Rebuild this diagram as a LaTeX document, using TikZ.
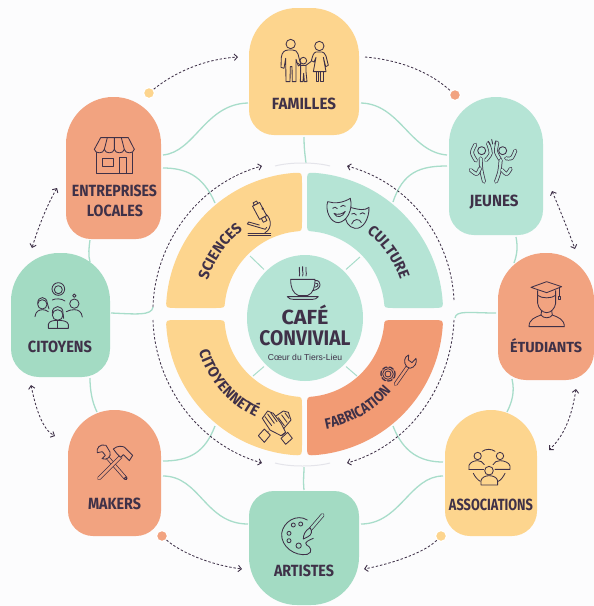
\documentclass[tikz,border=0pt]{standalone}
\usepackage{graphicx}
\usepackage{fontspec}
\usetikzlibrary{arrows.meta,shapes.geometric,decorations.text}
\newfontfamily\labf[FakeStretch=0.86]{Fira Sans}
\newfontfamily\labw[FakeStretch=0.97]{Fira Sans}
\newfontfamily\subf{Liberation Sans}
\definecolor{bgc}{HTML}{FCFCFD}
\definecolor{ink}{HTML}{3F3148}
\definecolor{tealA}{HTML}{A3DBC3}
\definecolor{tealB}{HTML}{B5E4D5}
\definecolor{orangeA}{HTML}{F2A380}
\definecolor{orangeB}{HTML}{F29B74}
\definecolor{yellowA}{HTML}{FDD58E}
\definecolor{linkc}{HTML}{A8DDCA}
\definecolor{faint}{HTML}{E4E4EA}
\newcommand\catfont{\labw\bfseries\fontsize{15}{15}\selectfont\color{ink}}
\newcommand\catfontn{\labf\bfseries\fontsize{15}{15}\selectfont\color{ink}}
\newcommand\fl[3]{\resizebox{#1pt}{#2pt}{#3}}
\newcommand\drawcard[8]{%
 \fill[#8] (#2,{#3+#6}) .. controls (#2,{#3+.45*#6}) and ({#2+.45*#6},#3) .. ({#2+#6},#3)
  -- ({#4-#6},#3) .. controls ({#4-.45*#6},#3) and (#4,{#3+.45*#6}) .. (#4,{#3+#6})
  -- (#4,{#5-#7}) .. controls (#4,{#5-.45*#7}) and ({#4-.45*#7},#5) .. ({#4-#7},#5)
  -- ({#2+#7},#5) .. controls ({#2+.45*#7},#5) and (#2,{#5-.45*#7}) .. (#2,{#5-#7}) -- cycle;
 \node[cardbox,minimum width={(#4-#2)*1pt},minimum height={(#5-#3)*1pt}] (#1) at ({(#2+#4)/2},{(#3+#5)/2}) {};}
\newcommand\qsector[5]{% colour, s, t, cx, cy
 \fill[#1] plot[domain=4:86,samples=40,variable=\a] ({#4+#2*138.5*cos(\a)},{#5+#3*138.5*sin(\a)})
  .. controls ({#4+#2*2.5},{#5+#3*138.5}) .. ({#4+#2*2.5},{#5+#3*128})
  -- ({#4+#2*2.5},{#5+#3*89}) .. controls ({#4+#2*2.5},{#5+#3*80}) .. ({#4+#2*8.4},{#5+#3*79.5})
  -- plot[domain=84:6,samples=30,variable=\a] ({#4+#2*80*cos(\a)},{#5+#3*80*sin(\a)})
  .. controls ({#4+#2*80},{#5+#3*3}) .. ({#4+#2*90},{#5+#3*3})
  -- ({#4+#2*128},{#5+#3*3}) .. controls ({#4+#2*138.5},{#5+#3*3}) .. ({#4+#2*138.2},{#5+#3*9.7}) -- cycle;}
\newcommand\arctext[7]{% text, cx, cy, r, from, to, font
 \path[decorate,decoration={text along path,text={|#7|#1},text align=center}]
  plot[domain=#5:#6,samples=50,variable=\a] ({#2+#4*cos(\a)},{#3+#4*sin(\a)});}
\tikzset{
 cardbox/.style={inner sep=0pt,outer sep=0pt},
 lab/.style={text=ink,font=\labf\bfseries\fontsize{16}{18}\selectfont,inner sep=0pt,align=center},
 link/.style={draw=linkc,line width=1.3pt},
 dashl/.style={draw=ink,line width=.85pt,dash pattern=on 2.4pt off 1.9pt},
 >={Straight Barb[length=3.2pt,width=6.4pt,line width=.9pt]},
 dot/.style={circle,draw=white,line width=1.2pt,minimum size=11pt,inner sep=0pt},
 icon/.style={draw=ink,line width=.85pt,line join=round,line cap=round},
 iconat/.style 2 args={shift={(#1,#2)},x=.33333pt,y=-.33333pt},
 limb/.style={draw=ink,line width=.75pt,double=#1,double distance=2.4pt,line cap=round,line join=round},
}
\begin{document}
\begin{tikzpicture}[x=1pt,y=-1pt]
\useasboundingbox (0,0) rectangle (594,606);
\fill[bgc] (0,0) rectangle (594,606);

% sectors
\qsector{yellowA}{-1}{-1}{304.5}{311}
\qsector{tealB}{1}{-1}{304.5}{311}
\qsector{yellowA}{-1}{1}{304.5}{317}
\qsector{orangeB}{1}{1}{304.5}{317}
\arctext{SCIENCES}{305}{311}{102}{175}{255}{\catfont}
\arctext{CULTURE}{305}{311}{100}{285}{365}{\catfont}
\arctext{FABRICATION}{305}{317}{114}{100}{20}{\catfontn}
\arctext{CITOYENNETÉ}{305}{317}{112}{179}{99}{\catfont}

% centre
\node[ellipse,fill=tealB,minimum width=116pt,minimum height=126pt,inner sep=0pt,outer sep=0pt] (cafe) at (305,318) {};
\node[lab] (cafet) at (305,315) {\fl{47}{19.5}{CAFÉ}};
\node[lab] (convt) at (305,338) {\fl{91}{15}{CONVIVIAL}};
\node[lab,font=\subf\fontsize{8.6}{10}\selectfont] (coeur) at (305,357) {Cœur du Tiers-Lieu};

% cards
\drawcard{fam}{249}{8}{359}{135}{48}{25}{yellowA}
\drawcard{ent}{66}{97}{161}{239}{47}{25}{orangeA}
\drawcard{jeu}{449}{97}{543}{235}{47}{25}{tealB}
\drawcard{cit}{11}{253}{110}{377}{48}{28}{tealA}
\drawcard{etu}{498}{253}{594}{380}{47}{28}{orangeA}
\drawcard{mak}{68}{410}{161}{536}{46}{25}{orangeA}
\drawcard{ass}{445}{410}{537}{536}{46}{25}{yellowA}
\drawcard{art}{249}{491}{359}{605}{25}{48}{tealA}

\node[lab] (famt) at (304,104) {\fl{64}{11.5}{FAMILLES}};
\node[lab] (entt) at (114.5,191) {\fl{85}{11.5}{ENTREPRISES}};
\node[lab] (loct) at (115,211) {\fl{56}{11.5}{LOCALES}};
\node[lab] (jeut) at (494,202) {\fl{49}{11.5}{JEUNES}};
\node[lab] (citt) at (60,347) {\fl{64}{11.5}{CITOYENS}};
\node[lab] (etut) at (546,346) {\fl{72}{14}{ÉTUDIANTS}};
\node[lab] (makt) at (114.5,504) {\fl{53}{11.5}{MAKERS}};
\node[lab] (asst) at (491,505) {\fl{84}{11.5}{ASSOCIATIONS}};
\node[lab] (artt) at (304,571) {\fl{60}{11.5}{ARTISTES}};

% end points on ring and sectors
\coordinate (pS) at (215,203);
\coordinate (pC) at (393,202);
\coordinate (pF) at (393,426);
\coordinate (pM) at (215,426);
\coordinate (rT) at (306,163);
\coordinate (rB) at (304,467);
\coordinate (rR) at (455,318);
\coordinate (rL) at (153,307);
\coordinate (tS) at (250,256);
\coordinate (tC) at (360,257);
\coordinate (tM) at (253,376);
\coordinate (tF) at (357,376);

% links
\draw[link] ([xshift=2pt,yshift=13pt]ent.east) .. controls (195,152) and (205,104) .. ([xshift=-1pt,yshift=-31.5pt]fam.west);
\draw[link] ([xshift=2pt]ent.east) .. controls (185,168) and (203,175) .. (pS);
\draw[link] ([yshift=-2pt]fam.south) .. controls (304,148) and (305,155) .. (rT);
\draw[link] ([xshift=2pt,yshift=-31.5pt]fam.east) .. controls (400,104) and (410,152) .. ([xshift=-2pt,yshift=11pt]jeu.west);
\draw[link] ([xshift=-2pt]jeu.west) .. controls (420,166) and (403,172) .. (pC);
\draw[link] ([xshift=20pt,yshift=-2pt]jeu.south) .. controls (518,247) and (517,255) .. ([xshift=-32pt,yshift=-10pt]etu.north);
\draw[link] ([xshift=-2pt,yshift=3.5pt]etu.west) .. controls (470,313) and (456,310) .. (rR);
\draw[link] ([xshift=-34pt,yshift=1pt]etu.south) .. controls (515,392) and (512,402) .. ([xshift=16pt,yshift=-2pt]ass.north);
\draw[link] ([xshift=-2pt,yshift=11pt]ass.west) .. controls (420,462) and (403,452) .. (pF);
\draw[link] ([xshift=-2pt,yshift=-3pt]ass.west) .. controls (410,476) and (400,524) .. ([xshift=2pt,yshift=24pt]art.east);
\draw[link] ([yshift=1pt]art.north) .. controls (303,480) and (304,475) .. (rB);
\draw[link] ([xshift=2pt,yshift=-3pt]mak.east) .. controls (200,476) and (205,524) .. ([xshift=-1pt,yshift=24pt]art.west);
\draw[link] ([xshift=2pt,yshift=12pt]mak.east) .. controls (190,461) and (205,452) .. (pM);
\draw[link] ([xshift=-17.5pt,yshift=-2pt]mak.north) .. controls (92,402) and (90,390) .. ([xshift=29.5pt,yshift=-1pt]cit.south);
\draw[link] ([xshift=1pt,yshift=2pt]cit.east) .. controls (135,314) and (152,316) .. (rL);
\draw[link] ([xshift=29.5pt,yshift=-9pt]cit.north) .. controls (88,255) and (89,247) .. ([xshift=-23.5pt,yshift=-1pt]ent.south);
\draw[link,line width=1pt] ([yshift=4pt]cafe.north west) -- (tS);
\draw[link,line width=1pt] ([yshift=4pt]cafe.north east) -- (tC);
\draw[link,line width=1pt] ([yshift=-4pt]cafe.south west) -- (tM);
\draw[link,line width=1pt] ([yshift=-4pt]cafe.south east) -- (tF);

% ring
\draw[faint,line width=1pt] (275,166) .. controls (290,162) and (315,162) .. (330,166);
\draw[faint,line width=1pt] (275,463) .. controls (290,467) and (315,467) .. (330,463);
\coordinate (a1) at (153,307); \coordinate (a2) at (262,166);
\coordinate (b1) at (454,300); \coordinate (b2) at (347,166);
\coordinate (c1) at (153,320); \coordinate (c2) at (262,463);
\coordinate (d1) at (454,320); \coordinate (d2) at (347,463);
\draw[dashl,->] (a1) .. controls (155,242) and (199,183) .. (a2);
\draw[dashl,->] (b1) .. controls (451,238) and (410,183) .. (b2);
\draw[dashl,->] (c1) .. controls (155,386) and (199,445) .. (c2);
\draw[dashl,->] (d1) .. controls (451,386) and (410,445) .. (d2);

% outer dashed links and dots
\node[dot,fill=yellowA] (dotE) at (149,93) {};
\node[dot,fill=orangeA] (dotJ) at (455,95) {};
\node[dot,fill=yellowA] (dotA) at (441,536) {};
\node[dot,fill=orangeA] (dotM) at (162,536) {};
\draw[dashl,->] (dotE) .. controls (175,72) and (205,59) .. ([xshift=-11pt,yshift=14.5pt]fam.west);
\draw[dashl] ([xshift=6pt,yshift=14.5pt]fam.east) .. controls (400,60) and (430,72) .. (dotJ);
\draw[dashl,<->] ([xshift=9pt,yshift=-25pt]jeu.east) .. controls (560,210) and (568,230) .. ([xshift=29pt,yshift=4pt]etu.north);
\draw[dashl,<->] ([xshift=30pt,yshift=-9pt]etu.south) .. controls (572,415) and (565,435) .. ([xshift=12pt,yshift=23pt]ass.east);
\draw[dashl,->] (dotA) .. controls (425,552) and (395,563) .. ([xshift=5pt,yshift=-21pt]art.east);
\draw[dashl,->] (dotM) .. controls (180,552) and (210,565) .. ([xshift=-7pt,yshift=-21pt]art.west);
\draw[dashl,<->] ([xshift=-29.5pt,yshift=-8pt]cit.south) .. controls (36,410) and (43,430) .. ([xshift=-13pt,yshift=37pt]mak.west);
\draw[dashl,<->] ([xshift=-9pt,yshift=-20pt]ent.west) .. controls (47,205) and (38,228) .. ([xshift=-28.5pt,yshift=5pt]cit.north);

% ICONS
% family
\begin{scope}[iconat={270}{30}]
\draw[icon] (62,42) circle (14);
\draw[icon] (55,60) .. controls (42,60) and (36,68) .. (34,82) -- (33,112) -- (42,115) -- (47,85) -- (48,155) -- (60,155) -- (61,110) -- (66,110) -- (67,155) -- (78,155) -- (78,88) -- (85,108) -- (92,103) -- (84,72) .. controls (82,64) and (76,60) .. (68,60) -- cycle;
\draw[icon] (100,92) circle (10);
\draw[icon] (92,106) -- (84,100) (108,106) -- (124,94) (92,106) -- (108,106) -- (108,125) -- (111,155) -- (103,155) -- (101,130) -- (99,155) -- (91,155) -- (92,125) -- cycle;
\draw[icon] (148,48) circle (14);
\draw[icon] (138,66) .. controls (130,68) and (128,78) .. (124,92) -- (132,96) -- (138,82) -- (130,125) -- (168,125) -- (160,82) -- (167,110) -- (175,106) -- (168,78) .. controls (165,70) and (160,66) .. (156,66) -- cycle;
\draw[icon] (138,125) -- (138,155) -- (146,155) -- (146,125) (152,125) -- (152,155) -- (160,155) -- (160,125);
\end{scope}
% shop
\begin{scope}[iconat={0}{0}]
\draw[icon] (302,413) -- (385,413) -- (403,448) (302,413) -- (283,448);
\draw[icon] (283,448) .. controls (285,462) and (311,462) .. (313,448) .. controls (315,462) and (341,462) .. (343,448) .. controls (345,462) and (371,462) .. (373,448) .. controls (375,462) and (401,462) .. (403,448);
\draw[icon] (322,413) -- (313,448) (343,413) -- (343,448) (364,413) -- (373,448);
\draw[icon] (290,458) -- (290,520) -- (397,520) -- (397,458);
\draw[icon] (307,475) rectangle (340,500);
\draw[icon] (358,520) -- (358,472) -- (380,472) -- (380,520);
\end{scope}
% dancers
\begin{scope}[iconat={460}{130}]
\draw[icon] (65,62) circle (12);
\draw[limb=tealB] plot[smooth] coordinates {(48,92) (36,68) (46,44)};
\draw[limb=tealB] plot[smooth] coordinates {(78,90) (92,70) (84,40)};
\draw[limb=tealB] plot[smooth] coordinates {(62,85) (64,120) (72,155)};
\draw[limb=tealB] plot[smooth] coordinates {(60,115) (50,132) (32,120)};
\draw[icon] (128,62) circle (12);
\draw[limb=tealB] plot[smooth] coordinates {(120,88) (108,65) (112,38)};
\draw[limb=tealB] plot[smooth] coordinates {(138,85) (155,84) (166,62)};
\draw[limb=tealB] plot[smooth] coordinates {(122,90) (118,125) (108,155)};
\draw[limb=tealB] plot[smooth] coordinates {(126,120) (140,132) (152,116)};
\draw[icon] (95,28) -- (98,42) (85,34) -- (90,44) (108,32) -- (104,42);
\end{scope}
% citizens
\begin{scope}[iconat={25}{275}]
\draw[icon] (100,42) circle (19) (100,44) circle (12);
\draw[icon] (82,75) .. controls (90,70) and (110,70) .. (120,78);
\draw[icon] (52,88) circle (14);
\draw[icon] (38,85) .. controls (38,62) and (66,62) .. (67,85) -- (72,102);
\draw[icon] (30,125) .. controls (32,108) and (42,105) .. (52,104) .. controls (58,104) and (65,106) .. (70,110);
\draw[icon] (148,62) circle (5) (148,86) circle (14);
\draw[icon] (124,110) .. controls (130,106) and (140,104) .. (148,104) .. controls (160,104) and (170,110) .. (172,126);
\draw[icon] (98,120) circle (16);
\draw[icon] (82,115) .. controls (80,88) and (116,88) .. (114,115) -- (116,130);
\draw[icon] (70,160) -- (70,148) .. controls (72,138) and (85,136) .. (98,136) .. controls (112,136) and (128,138) .. (130,148) -- (130,160) -- cycle;
\draw[icon] (98,136) -- (98,160);
\end{scope}
% graduate
\begin{scope}[iconat={515}{270}]
\draw[icon] (68,75) -- (68,100) .. controls (70,115) and (82,128) .. (95,128) .. controls (108,128) and (120,115) .. (122,100) -- (122,75);
\draw[icon] (80,122) -- (78,135) .. controls (60,142) and (42,148) .. (42,170) -- (148,170) .. controls (148,148) and (130,142) .. (112,135) -- (110,122);
\draw[icon] (78,135) .. controls (84,146) and (106,146) .. (112,135);
\draw[icon,fill=orangeA] (68,62) -- (68,76) .. controls (80,86) and (110,86) .. (122,76) -- (122,62);
\draw[icon,fill=orangeA] (48,52) -- (95,35) -- (140,50) -- (95,68) -- cycle;
\draw[icon] (133,54) -- (133,80) (129,80) rectangle (137,89);
\end{scope}
% makers
\begin{scope}[iconat={0}{300}]
\draw[limb=orangeA] (377,535) -- (322,472);
\draw[icon,fill=orangeA] (318,436) .. controls (300,430) and (288,445) .. (292,458) -- (307,455) -- (316,466) -- (306,476) .. controls (320,482) and (335,470) .. (330,456) -- cycle;
\draw[icon] (377,535) circle (4);
\draw[limb=orangeA] (297,535) -- (362,470);
\draw[icon,fill=orangeA] (340,447) .. controls (352,436) and (368,438) .. (374,442) -- (398,466) -- (388,482) -- (370,464) -- (362,472) -- (350,460) -- cycle;
\end{scope}
% associations
\begin{scope}[iconat={465}{440}]
\draw[icon] (38,48) circle (11) (105,48) circle (11) (72,92) circle (13);
\draw[icon] (12,88) -- (12,76) .. controls (16,66) and (28,62) .. (38,62) .. controls (46,62) and (54,66) .. (58,74);
\draw[icon] (12,88) -- (56,88);
\draw[icon] (84,74) .. controls (88,66) and (96,62) .. (105,62) .. controls (118,62) and (133,68) .. (135,78) -- (135,88) -- (90,88);
\draw[icon] (48,135) -- (48,122) .. controls (50,112) and (62,107) .. (72,107) .. controls (84,107) and (96,112) .. (98,122) -- (98,135) -- cycle;
\draw[icon] (52,34) .. controls (62,26) and (80,26) .. (90,34);
\draw[icon] (25,100) .. controls (30,110) and (38,120) .. (46,124);
\draw[icon] (120,100) .. controls (115,110) and (108,120) .. (100,124);
\end{scope}
% palette
\begin{scope}[iconat={270}{505}]
\draw[icon] (112,45) .. controls (80,25) and (40,50) .. (35,85) .. controls (32,125) and (75,155) .. (112,148) .. controls (130,142) and (122,125) .. (110,120) .. controls (100,112) and (118,105) .. (130,100);
\draw[icon] (70,60) circle (6) (92,57) circle (6) (57,85) circle (6) (57,107) circle (6) (86,122) circle (8);
\draw[limb=tealA] (158,30) -- (122,72);
\draw[icon,fill=tealA] (120,68) .. controls (128,78) and (125,90) .. (114,95) -- (100,102) .. controls (100,90) and (104,78) .. (120,68) -- cycle;
\end{scope}
% cup, microscope, masks, gear, hands share the centre zoom grid
\begin{scope}[iconat={150}{150}]
% cup
\draw[icon] (448,352) .. controls (444,360) and (452,366) .. (448,378) (458,350) .. controls (454,360) and (462,366) .. (458,378) (468,352) .. controls (464,360) and (472,366) .. (468,378);
\draw[icon] (422,388) -- (495,388) .. controls (495,412) and (490,430) .. (472,437) -- (446,437) .. controls (428,430) and (422,412) .. (422,388) -- cycle;
\draw[icon] (495,392) .. controls (515,388) and (518,418) .. (488,422);
\draw[icon] (497,400) .. controls (506,398) and (508,410) .. (494,412);
\draw[icon] (412,440) -- (505,440) .. controls (500,446) and (495,448) .. (488,448) -- (430,448) .. controls (422,448) and (416,446) .. (412,440) -- cycle;
% microscope
\draw[icon] (294,255) -- (362,255) (294,250) -- (362,250);
\draw[icon] (335,185) .. controls (365,195) and (370,235) .. (345,248);
\draw[icon] (292,222) -- (346,238) -- (350,232) (292,222) -- (296,216) -- (328,225);
\draw[icon,fill=yellowA,rotate around={28:(330,185)}] (318,160) rectangle (342,205);
\draw[icon,fill=yellowA,rotate around={28:(330,185)}] (324,205) rectangle (336,218);
\draw[icon,fill=yellowA,rotate around={28:(330,185)}] (324,152) rectangle (336,160);
\draw[icon,fill=ink] (338,176) circle (2);
% masks
\draw[icon,fill=tealB] (592,168) -- (600,172) .. controls (630,180) and (645,182) .. (657,172) .. controls (658,205) and (640,238) .. (615,235) .. controls (597,232) and (583,215) .. (586,190) -- cycle;
\draw[icon,fill=tealB] (533,155) .. controls (555,162) and (580,158) .. (601,145) .. controls (610,180) and (590,215) .. (565,218) .. controls (540,218) and (525,180) .. (533,155) -- cycle;
\draw[icon] (548,175) .. controls (552,170) and (558,170) .. (562,176) (572,170) .. controls (576,165) and (582,165) .. (586,169);
\draw[icon] (552,190) .. controls (560,206) and (578,202) .. (586,184) .. controls (578,192) and (562,196) .. (552,190) -- cycle;
\draw[icon] (605,192) .. controls (610,188) and (616,190) .. (619,195) (630,192) .. controls (636,186) and (640,188) .. (645,192);
\draw[icon] (605,222) .. controls (610,205) and (630,205) .. (634,218);
% gear
\draw[icon] (714,672) circle (9);
\draw[icon,dash pattern=on 4pt off 2.5pt,line width=2.2pt] (714,672) circle (20);
\draw[icon,draw=orangeB,line width=1pt] (714,672) circle (17.5);
\draw[icon] (714,672) circle (16);
% wrench
\draw[limb=orangeB] (737,702) -- (772,652);
\draw[icon,fill=orangeB] (776,615) .. controls (762,620) and (760,638) .. (770,650) -- (780,655) .. controls (795,652) and (802,638) .. (798,625) -- (786,638) -- (775,630) -- cycle;
\end{scope}
% hands
\begin{scope}[iconat={255}{405}]
\draw[icon,fill=yellowA] (60,35) -- (85,18) -- (100,22) -- (108,45) -- (85,72) -- (70,60) -- cycle;
\draw[icon] (70,38) -- (88,62) (80,30) -- (96,52) (90,24) -- (102,40);
\draw[icon,fill=yellowA] (22,40) -- (38,18) -- (55,25) -- (78,55) -- (92,82) -- (78,92) -- (45,75) -- cycle;
\draw[icon] (30,35) -- (50,62) (38,27) -- (58,55) (47,23) -- (66,50);
\draw[icon] (40,80) -- (32,85) (92,82) -- (80,92);
\draw[icon,fill=yellowA] (10,92) -- (28,72) -- (46,90) -- (28,112) -- cycle;
\draw[icon,fill=yellowA] (78,100) -- (98,82) -- (112,100) -- (92,118) -- cycle;
\end{scope}
\end{tikzpicture}
\end{document}
